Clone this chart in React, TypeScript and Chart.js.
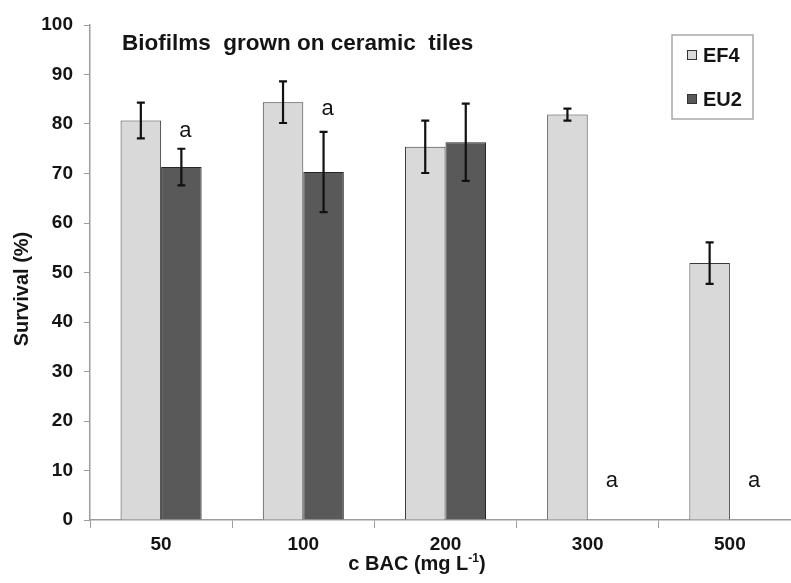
import { useEffect, useRef } from "react";
import { Chart, registerables } from "chart.js";

Chart.register(...registerables);

const categories = ["50", "100", "200", "300", "500"];
const ef4Means = [80.7, 84.4, 75.4, 81.9, 51.9];
const ef4Errors = [3.6, 4.2, 5.3, 1.2, 4.2];
const eu2Means: (number | null)[] = [71.3, 70.3, 76.3, null, null];
const eu2Errors: (number | null)[] = [3.7, 8.1, 7.8, null, null];
const eu2Letters = ["a", "a", "", "a", "a"];
const eu2LetterValues: (number | null)[] = [77.4, 81.8, null, 6.7, 6.7];
const seriesNames = ["EF4", "EU2"];
const chartTitle = "Biofilms  grown on ceramic  tiles";
const yTitle = "Survival (%)";
const xTitleMain = "c BAC (mg L";
const xTitleSup = "-1";
const xTitleEnd = ")";

const FONT = "'Liberation Sans', Arial, sans-serif";
const TEXT = "#141414";
const AXIS = "#9c9c9c";

const errorBars = [ef4Errors, eu2Errors];
const meansList = [ef4Means, eu2Means];

const extrasPlugin = {
  id: "extras",
  afterDatasetsDraw(chart: any) {
    const ctx = chart.ctx;
    const y = chart.scales.y;
    const x = chart.scales.x;
    ctx.save();
    ctx.strokeStyle = "#111";
    ctx.lineWidth = 2.2;
    meansList.forEach((means, di) => {
      const meta = chart.getDatasetMeta(di);
      means.forEach((m, j) => {
        const e = errorBars[di][j];
        if (m == null || e == null) return;
        const el = meta.data[j];
        const px = el.x;
        const top = y.getPixelForValue(m + e);
        const bot = y.getPixelForValue(m - e);
        ctx.beginPath();
        ctx.moveTo(px, top);
        ctx.lineTo(px, bot);
        ctx.moveTo(px - 4, top);
        ctx.lineTo(px + 4, top);
        ctx.moveTo(px - 4, bot);
        ctx.lineTo(px + 4, bot);
        ctx.stroke();
      });
    });
    // significance letters above EU2
    const ef4Meta = chart.getDatasetMeta(0);
    const bw = ef4Meta.data[0].width;
    ctx.fillStyle = TEXT;
    ctx.font = `22px ${FONT}`;
    ctx.textAlign = "center";
    ctx.textBaseline = "alphabetic";
    eu2Letters.forEach((l, j) => {
      const v = eu2LetterValues[j];
      if (!l || v == null) return;
      const px = x.getPixelForValue(j) + bw / 2 + 4;
      ctx.fillText(l, px, y.getPixelForValue(v));
    });
    ctx.restore();
  },
  afterDraw(chart: any) {
    const ctx = chart.ctx;
    const area = chart.chartArea;
    ctx.save();
    ctx.fillStyle = TEXT;
    // chart title inside plot
    ctx.font = `bold 22.5px ${FONT}`;
    ctx.textAlign = "left";
    ctx.textBaseline = "alphabetic";
    ctx.fillText(chartTitle, area.left + 32, 50);

    // y title
    ctx.save();
    ctx.translate(22, 289);
    ctx.rotate(-Math.PI / 2);
    ctx.font = `bold 20px ${FONT}`;
    ctx.textAlign = "center";
    ctx.textBaseline = "middle";
    ctx.fillText(yTitle, 0, 0);
    ctx.restore();

    // x title with superscript
    ctx.textAlign = "left";
    ctx.textBaseline = "alphabetic";
    ctx.font = `bold 20px ${FONT}`;
    const w1 = ctx.measureText(xTitleMain).width;
    const w3 = ctx.measureText(xTitleEnd).width;
    ctx.font = `bold 12px ${FONT}`;
    const w2 = ctx.measureText(xTitleSup).width;
    const total = w1 + w2 + w3;
    let sx = 417 - total / 2;
    const base = 570;
    ctx.font = `bold 20px ${FONT}`;
    ctx.fillText(xTitleMain, sx, base);
    sx += w1;
    ctx.font = `bold 12px ${FONT}`;
    ctx.fillText(xTitleSup, sx, base - 8);
    sx += w2;
    ctx.font = `bold 20px ${FONT}`;
    ctx.fillText(xTitleEnd, sx, base);

    // legend box
    ctx.strokeStyle = "#a8a8a8";
    ctx.lineWidth = 1.5;
    ctx.strokeRect(672, 35, 81, 84);
    const rowsY = [55, 99];
    chart.data.datasets.forEach((ds: any, i: number) => {
      const cy = rowsY[i];
      ctx.fillStyle = ds.backgroundColor;
      ctx.fillRect(687, cy - 5, 10, 10);
      ctx.strokeStyle = "#333";
      ctx.lineWidth = 1;
      ctx.strokeRect(687.5, cy - 4.5, 9, 9);
      ctx.fillStyle = TEXT;
      ctx.font = `bold 20px ${FONT}`;
      ctx.textBaseline = "middle";
      ctx.fillText(ds.label, 703, cy + 1);
    });
    ctx.restore();
  },
};

export default function App() {
  const ref = useRef<HTMLCanvasElement | null>(null);
  useEffect(() => {
    if (!ref.current) return;
    const chart = new Chart(ref.current, {
      type: "bar",
      data: {
        labels: categories,
        datasets: [
          {
            label: seriesNames[0],
            data: ef4Means,
            backgroundColor: "#d9d9d9",
            borderColor: "#3a3a3a",
            borderWidth: 1,
            categoryPercentage: 0.57,
            barPercentage: 1,
          },
          {
            label: seriesNames[1],
            data: eu2Means as any,
            backgroundColor: "#595959",
            borderColor: "#262626",
            borderWidth: 1,
            categoryPercentage: 0.57,
            barPercentage: 1,
          },
        ],
      },
      options: {
        responsive: false,
        animation: false,
        devicePixelRatio: 1,
        layout: { padding: { left: 0, top: 25, right: 29, bottom: 0 } },
        plugins: {
          legend: { display: false },
          title: { display: false },
          tooltip: { enabled: false },
        },
        scales: {
          x: {
            grid: {
              display: true,
              drawOnChartArea: false,
              drawTicks: true,
              tickLength: 8,
              color: AXIS,
              offset: true,
            },
            border: { display: true, color: AXIS, width: 1.5 },
            ticks: {
              color: TEXT,
              font: { family: FONT, size: 19, weight: "bold" },
              padding: 5,
            },
            afterFit: (s: any) => {
              s.height = 63;
            },
          },
          y: {
            min: 0,
            max: 100,
            ticks: {
              stepSize: 10,
              color: TEXT,
              font: { family: FONT, size: 19, weight: "bold" },
              padding: 11,
            },
            grid: {
              display: true,
              drawOnChartArea: false,
              drawTicks: true,
              tickLength: 6,
              color: AXIS,
            },
            border: { display: true, color: AXIS, width: 1.5 },
            afterFit: (s: any) => {
              s.width = 90;
            },
          },
        },
      },
      plugins: [extrasPlugin],
    });
    return () => chart.destroy();
  }, []);
  return (
    <div
      style={{
        position: "fixed",
        left: 0,
        top: 0,
        width: 791,
        height: 583,
        overflow: "hidden",
        background: "#fff",
      }}
    >
      <canvas ref={ref} width={830} height={583} style={{ display: "block" }} />
    </div>
  );
}
